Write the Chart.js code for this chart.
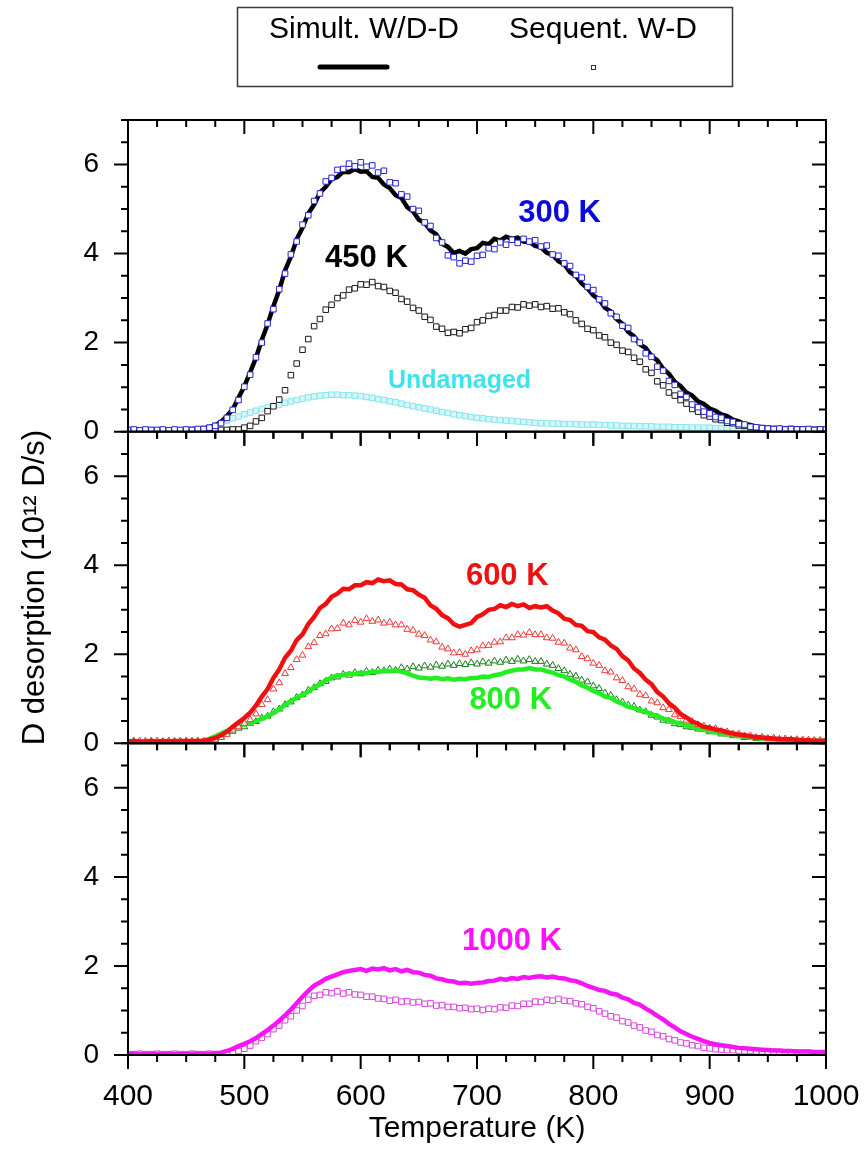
<!DOCTYPE html>
<html>
<head>
<meta charset="utf-8">
<title>D desorption vs temperature</title>
<script src="https://cdn.jsdelivr.net/npm/chart.js@4.4.1/dist/chart.umd.min.js"></script>
<style>
  html, body { margin: 0; padding: 0; background: #fff; }
  #wrap { position: relative; width: 866px; height: 1153px; }
</style>
</head>
<body>
<div id="wrap"><canvas id="tds"></canvas></div>
<script>
// Temperature grid (K)
const temperature = [
  400, 405, 410, 415, 420, 425, 430, 435, 440, 445,
  450, 455, 460, 465, 470, 475, 480, 485, 490, 495,
  500, 505, 510, 515, 520, 525, 530, 535, 540, 545,
  550, 555, 560, 565, 570, 575, 580, 585, 590, 595,
  600, 605, 610, 615, 620, 625, 630, 635, 640, 645,
  650, 655, 660, 665, 670, 675, 680, 685, 690, 695,
  700, 705, 710, 715, 720, 725, 730, 735, 740, 745,
  750, 755, 760, 765, 770, 775, 780, 785, 790, 795,
  800, 805, 810, 815, 820, 825, 830, 835, 840, 845,
  850, 855, 860, 865, 870, 875, 880, 885, 890, 895,
  900, 905, 910, 915, 920, 925, 930, 935, 940, 945,
  950, 955, 960, 965, 970, 975, 980, 985, 990, 995,
  1000
];

// Top panel (10^12 D/s)
const simult300 = [
  0.04, 0.03, 0.04, 0.04, 0.03, 0.04, 0.05, 0.04, 0.04, 0.05,
  0.05, 0.06, 0.06, 0.07, 0.10, 0.14, 0.22, 0.35, 0.50, 0.76,
  1.02, 1.33, 1.66, 2.06, 2.41, 2.82, 3.18, 3.62, 3.93, 4.32,
  4.58, 4.90, 5.10, 5.37, 5.50, 5.67, 5.72, 5.84, 5.83, 5.90,
  5.84, 5.85, 5.72, 5.70, 5.55, 5.47, 5.31, 5.25, 5.04, 4.95,
  4.76, 4.69, 4.52, 4.43, 4.22, 4.15, 4.01, 4.06, 4.00, 4.10,
  4.12, 4.24, 4.21, 4.33, 4.29, 4.38, 4.33, 4.36, 4.27, 4.26,
  4.17, 4.14, 4.02, 3.97, 3.83, 3.76, 3.58, 3.50, 3.33, 3.22,
  3.06, 2.97, 2.78, 2.70, 2.53, 2.42, 2.24, 2.14, 1.96, 1.88,
  1.70, 1.60, 1.41, 1.30, 1.12, 1.02, 0.88, 0.81, 0.68, 0.62,
  0.52, 0.47, 0.39, 0.35, 0.27, 0.23, 0.17, 0.15, 0.11, 0.10,
  0.08, 0.07, 0.07, 0.06, 0.06, 0.06, 0.05, 0.05, 0.05, 0.05,
  0.05
];
const sequent300 = [
  0.04, 0.05, 0.03, 0.05, 0.04, 0.04, 0.05, 0.03, 0.05, 0.04,
  0.05, 0.04, 0.06, 0.06, 0.09, 0.13, 0.19, 0.31, 0.49, 0.71,
  1.01, 1.28, 1.67, 2.00, 2.43, 2.75, 3.20, 3.55, 3.98, 4.27,
  4.65, 4.86, 5.18, 5.35, 5.62, 5.70, 5.88, 5.90, 6.02, 5.96,
  6.05, 5.95, 5.98, 5.82, 5.86, 5.60, 5.58, 5.33, 5.28, 5.00,
  4.96, 4.70, 4.62, 4.35, 4.25, 3.96, 3.92, 3.78, 3.84, 3.82,
  3.95, 3.97, 4.12, 4.10, 4.25, 4.20, 4.31, 4.24, 4.33, 4.27,
  4.30, 4.16, 4.18, 3.98, 3.95, 3.78, 3.72, 3.52, 3.46, 3.25,
  3.18, 2.97, 2.88, 2.66, 2.58, 2.38, 2.33, 2.08, 2.00, 1.76,
  1.68, 1.46, 1.37, 1.14, 1.05, 0.85, 0.78, 0.61, 0.55, 0.45,
  0.41, 0.33, 0.31, 0.24, 0.22, 0.17, 0.16, 0.11, 0.10, 0.08,
  0.07, 0.06, 0.07, 0.05, 0.06, 0.05, 0.05, 0.06, 0.04, 0.05,
  0.05
];
const sequent450 = [
  0.02, 0.03, 0.02, 0.02, 0.03, 0.02, 0.03, 0.02, 0.03, 0.02,
  0.03, 0.02, 0.03, 0.03, 0.03, 0.03, 0.04, 0.04, 0.05, 0.05,
  0.09, 0.13, 0.23, 0.31, 0.46, 0.57, 0.72, 0.93, 1.27, 1.53,
  1.84, 2.08, 2.37, 2.53, 2.74, 2.85, 3.00, 3.06, 3.19, 3.22,
  3.31, 3.30, 3.36, 3.27, 3.25, 3.16, 3.12, 2.98, 2.92, 2.78,
  2.72, 2.58, 2.51, 2.36, 2.31, 2.22, 2.24, 2.21, 2.30, 2.33,
  2.46, 2.50, 2.60, 2.62, 2.72, 2.72, 2.80, 2.79, 2.86, 2.83,
  2.86, 2.80, 2.82, 2.76, 2.77, 2.68, 2.64, 2.50, 2.42, 2.31,
  2.28, 2.16, 2.12, 2.00, 1.95, 1.82, 1.79, 1.66, 1.57, 1.40,
  1.32, 1.13, 1.04, 0.88, 0.81, 0.71, 0.63, 0.51, 0.45, 0.37,
  0.34, 0.28, 0.26, 0.20, 0.19, 0.14, 0.13, 0.10, 0.09, 0.08,
  0.07, 0.06, 0.06, 0.05, 0.06, 0.05, 0.05, 0.05, 0.04, 0.05,
  0.05
];
const undamaged = [
  0.03, 0.03, 0.03, 0.03, 0.03, 0.03, 0.03, 0.03, 0.03, 0.03,
  0.03, 0.04, 0.04, 0.07, 0.10, 0.15, 0.20, 0.25, 0.30, 0.34,
  0.39, 0.43, 0.47, 0.51, 0.54, 0.58, 0.61, 0.65, 0.68, 0.71,
  0.74, 0.77, 0.79, 0.81, 0.82, 0.83, 0.83, 0.82, 0.82, 0.81,
  0.80, 0.78, 0.76, 0.73, 0.71, 0.68, 0.66, 0.63, 0.60, 0.57,
  0.55, 0.52, 0.50, 0.47, 0.44, 0.42, 0.39, 0.37, 0.35, 0.33,
  0.31, 0.30, 0.28, 0.27, 0.26, 0.25, 0.24, 0.23, 0.22, 0.21,
  0.20, 0.19, 0.19, 0.18, 0.18, 0.17, 0.17, 0.17, 0.16, 0.16,
  0.16, 0.15, 0.15, 0.14, 0.14, 0.13, 0.13, 0.13, 0.12, 0.12,
  0.12, 0.11, 0.11, 0.11, 0.10, 0.10, 0.10, 0.09, 0.09, 0.09,
  0.09, 0.08, 0.08, 0.08, 0.08, 0.07, 0.07, 0.07, 0.07, 0.07,
  0.06, 0.06, 0.06, 0.06, 0.06, 0.06, 0.05, 0.05, 0.05, 0.05,
  0.05
];

// Middle panel
const simult600 = [
  0.04, 0.05, 0.04, 0.04, 0.05, 0.04, 0.05, 0.04, 0.05, 0.05,
  0.05, 0.05, 0.05, 0.06, 0.08, 0.12, 0.18, 0.26, 0.37, 0.47,
  0.57, 0.69, 0.85, 1.05, 1.22, 1.47, 1.66, 1.92, 2.08, 2.32,
  2.45, 2.68, 2.84, 3.04, 3.13, 3.29, 3.36, 3.47, 3.46, 3.55,
  3.55, 3.62, 3.60, 3.68, 3.64, 3.66, 3.58, 3.57, 3.46, 3.44,
  3.34, 3.27, 3.10, 3.02, 2.88, 2.81, 2.68, 2.62, 2.66, 2.70,
  2.84, 2.90, 3.00, 3.02, 3.10, 3.06, 3.13, 3.08, 3.12, 3.04,
  3.08, 3.05, 3.08, 2.98, 2.92, 2.80, 2.77, 2.66, 2.64, 2.52,
  2.50, 2.38, 2.33, 2.20, 2.12, 1.96, 1.86, 1.68, 1.58, 1.43,
  1.33, 1.15, 1.05, 0.90, 0.80, 0.66, 0.58, 0.49, 0.44, 0.37,
  0.35, 0.31, 0.29, 0.25, 0.22, 0.20, 0.18, 0.16, 0.14, 0.13,
  0.12, 0.11, 0.10, 0.09, 0.09, 0.08, 0.07, 0.07, 0.06, 0.06,
  0.06
];
const sequent600 = [
  0.04, 0.03, 0.05, 0.04, 0.04, 0.05, 0.03, 0.04, 0.04, 0.05,
  0.04, 0.05, 0.04, 0.05, 0.05, 0.08, 0.13, 0.20, 0.30, 0.37,
  0.45, 0.53, 0.66, 0.87, 0.98, 1.22, 1.36, 1.57, 1.70, 1.88,
  1.98, 2.17, 2.26, 2.42, 2.46, 2.57, 2.58, 2.70, 2.66, 2.76,
  2.72, 2.80, 2.74, 2.77, 2.70, 2.72, 2.66, 2.66, 2.56, 2.54,
  2.45, 2.42, 2.32, 2.28, 2.16, 2.12, 2.03, 2.04, 2.00, 2.08,
  2.10, 2.19, 2.20, 2.27, 2.28, 2.37, 2.37, 2.44, 2.43, 2.49,
  2.44, 2.44, 2.37, 2.36, 2.27, 2.25, 2.14, 2.10, 1.95, 1.90,
  1.80, 1.75, 1.63, 1.60, 1.47, 1.41, 1.27, 1.22, 1.10, 1.07,
  0.95, 0.91, 0.80, 0.76, 0.64, 0.60, 0.52, 0.49, 0.42, 0.39,
  0.34, 0.33, 0.27, 0.26, 0.21, 0.21, 0.17, 0.17, 0.13, 0.14,
  0.11, 0.12, 0.09, 0.10, 0.08, 0.08, 0.07, 0.07, 0.06, 0.06,
  0.05
];
const simult800 = [
  0.03, 0.04, 0.03, 0.03, 0.04, 0.03, 0.04, 0.03, 0.04, 0.04,
  0.04, 0.04, 0.05, 0.06, 0.10, 0.16, 0.22, 0.28, 0.33, 0.38,
  0.42, 0.46, 0.50, 0.55, 0.61, 0.68, 0.77, 0.86, 0.95, 1.02,
  1.09, 1.16, 1.26, 1.32, 1.42, 1.47, 1.53, 1.53, 1.57, 1.55,
  1.59, 1.57, 1.61, 1.60, 1.63, 1.62, 1.64, 1.61, 1.57, 1.52,
  1.48, 1.47, 1.45, 1.47, 1.44, 1.46, 1.43, 1.45, 1.44, 1.47,
  1.47, 1.50, 1.49, 1.53, 1.55, 1.60, 1.63, 1.66, 1.66, 1.69,
  1.66, 1.66, 1.62, 1.59, 1.53, 1.50, 1.43, 1.38, 1.30, 1.25,
  1.17, 1.13, 1.05, 1.02, 0.94, 0.89, 0.82, 0.79, 0.74, 0.71,
  0.65, 0.62, 0.55, 0.53, 0.47, 0.45, 0.40, 0.37, 0.33, 0.30,
  0.27, 0.25, 0.22, 0.20, 0.18, 0.16, 0.14, 0.13, 0.12, 0.11,
  0.10, 0.09, 0.09, 0.08, 0.08, 0.07, 0.07, 0.06, 0.06, 0.06,
  0.05
];
const sequent800 = [
  0.04, 0.05, 0.04, 0.04, 0.05, 0.04, 0.04, 0.05, 0.04, 0.04,
  0.05, 0.04, 0.05, 0.05, 0.06, 0.10, 0.16, 0.23, 0.27, 0.34,
  0.37, 0.45, 0.49, 0.57, 0.61, 0.71, 0.77, 0.87, 0.93, 1.03,
  1.09, 1.19, 1.25, 1.34, 1.39, 1.47, 1.49, 1.55, 1.53, 1.59,
  1.56, 1.62, 1.59, 1.64, 1.63, 1.67, 1.64, 1.70, 1.67, 1.72,
  1.69, 1.74, 1.71, 1.76, 1.73, 1.78, 1.75, 1.79, 1.77, 1.81,
  1.78, 1.83, 1.80, 1.85, 1.82, 1.87, 1.84, 1.89, 1.85, 1.88,
  1.84, 1.84, 1.78, 1.75, 1.68, 1.63, 1.55, 1.51, 1.42, 1.38,
  1.29, 1.23, 1.13, 1.08, 0.98, 0.93, 0.86, 0.83, 0.75, 0.71,
  0.63, 0.59, 0.52, 0.50, 0.44, 0.42, 0.37, 0.36, 0.32, 0.31,
  0.26, 0.26, 0.21, 0.21, 0.17, 0.17, 0.13, 0.14, 0.11, 0.12,
  0.10, 0.10, 0.09, 0.09, 0.08, 0.08, 0.07, 0.07, 0.06, 0.06,
  0.06
];

// Bottom panel
const simult1000 = [
  0.02, 0.03, 0.02, 0.02, 0.03, 0.02, 0.02, 0.03, 0.02, 0.02,
  0.02, 0.03, 0.03, 0.03, 0.03, 0.04, 0.05, 0.09, 0.14, 0.20,
  0.25, 0.31, 0.38, 0.47, 0.56, 0.66, 0.77, 0.89, 1.02, 1.16,
  1.31, 1.44, 1.56, 1.63, 1.71, 1.76, 1.81, 1.86, 1.89, 1.91,
  1.93, 1.89, 1.94, 1.92, 1.95, 1.90, 1.93, 1.88, 1.91, 1.86,
  1.85, 1.80, 1.78, 1.72, 1.70, 1.66, 1.65, 1.61, 1.62, 1.60,
  1.62, 1.63, 1.66, 1.67, 1.71, 1.69, 1.73, 1.71, 1.75, 1.73,
  1.76, 1.77, 1.74, 1.76, 1.73, 1.72, 1.68, 1.66, 1.61, 1.55,
  1.51, 1.46, 1.44, 1.38, 1.36, 1.29, 1.25, 1.17, 1.13, 1.04,
  0.97, 0.88, 0.80, 0.70, 0.62, 0.53, 0.47, 0.41, 0.36, 0.31,
  0.27, 0.24, 0.22, 0.20, 0.18, 0.16, 0.15, 0.14, 0.13, 0.12,
  0.11, 0.10, 0.10, 0.09, 0.09, 0.08, 0.08, 0.08, 0.07, 0.07,
  0.07
];
const sequent1000 = [
  0.02, 0.02, 0.03, 0.02, 0.02, 0.03, 0.02, 0.02, 0.03, 0.02,
  0.02, 0.03, 0.02, 0.02, 0.03, 0.02, 0.02, 0.03, 0.04, 0.09,
  0.14, 0.21, 0.31, 0.39, 0.47, 0.58, 0.66, 0.78, 0.87, 1.00,
  1.10, 1.24, 1.33, 1.35, 1.41, 1.39, 1.43, 1.38, 1.41, 1.36,
  1.35, 1.31, 1.31, 1.27, 1.26, 1.22, 1.24, 1.20, 1.21, 1.18,
  1.19, 1.15, 1.16, 1.11, 1.12, 1.08, 1.08, 1.05, 1.06, 1.03,
  1.04, 1.01, 1.04, 1.03, 1.07, 1.06, 1.11, 1.10, 1.15, 1.15,
  1.20, 1.19, 1.24, 1.22, 1.26, 1.22, 1.21, 1.16, 1.14, 1.08,
  1.05, 0.98, 0.93, 0.87, 0.84, 0.76, 0.73, 0.66, 0.62, 0.55,
  0.52, 0.45, 0.42, 0.36, 0.33, 0.28, 0.26, 0.22, 0.20, 0.16,
  0.15, 0.13, 0.12, 0.11, 0.11, 0.10, 0.09, 0.09, 0.08, 0.08,
  0.07, 0.07, 0.06, 0.06, 0.06, 0.05, 0.05, 0.05, 0.04, 0.04,
  0.04
];

// Axis ticks and texts
const yTickValues = [0, 2, 4, 6];
const xTickValues = [400, 500, 600, 700, 800, 900, 1000];
const legendLabels = ['Simult. W/D-D', 'Sequent. W-D'];

// Curve labels, placed in data units of each panel
const curveLabels = [
  { text: '300 K', axis: 'yTop', t: 771, v: 4.9, color: '#0b0bd9', size: 31 },
  { text: '450 K', axis: 'yTop', t: 605, v: 3.9, color: '#000000', size: 31 },
  { text: 'Undamaged', axis: 'yTop', t: 685, v: 1.14, color: '#3fe3ee', size: 25 },
  { text: '600 K', axis: 'yMid', t: 726, v: 3.74, color: '#ee1111', size: 31 },
  { text: '800 K', axis: 'yMid', t: 729, v: 0.97, color: '#22ee22', size: 31 },
  { text: '1000 K', axis: 'yBot', t: 730, v: 2.54, color: '#ff11ff', size: 31 }
];

const FONT = "'Liberation Sans', Arial, Helvetica, sans-serif";
Chart.defaults.font.family = FONT;
Chart.defaults.color = '#000';

function pts(vals) {
  return temperature.map((t, i) => ({ x: t, y: vals[i] }));
}

function lineSet(label, vals, axis, color) {
  return {
    label, data: pts(vals), yAxisID: axis,
    borderColor: color, borderWidth: 4.5, pointRadius: 0,
    fill: false, tension: 0
  };
}

function markSet(label, vals, axis, color, style, fillColor) {
  return {
    label, data: pts(vals), yAxisID: axis, showLine: false,
    pointStyle: style, pointRadius: 3.9, pointBorderWidth: 1,
    pointBorderColor: color, pointBackgroundColor: fillColor || '#ffffff',
    borderColor: color, backgroundColor: fillColor || '#ffffff'
  };
}

// first dataset is drawn on top
const datasets = [
  markSet('300 K sequent', sequent300, 'yTop', '#2525d6', 'rect'),
  lineSet('300 K simult', simult300, 'yTop', '#000000'),
  markSet('450 K sequent', sequent450, 'yTop', '#1a1a1a', 'rect'),
  markSet('Undamaged', undamaged, 'yTop', '#86e6ee', 'rect', '#d6f7f9'),
  lineSet('600 K simult', simult600, 'yMid', '#f01010'),
  markSet('600 K sequent', sequent600, 'yMid', '#e83a3a', 'triangle'),
  lineSet('800 K simult', simult800, 'yMid', '#22ee22'),
  markSet('800 K sequent', sequent800, 'yMid', '#167a16', 'triangle'),
  lineSet('1000 K simult', simult1000, 'yBot', '#f515f5'),
  markSet('1000 K sequent', sequent1000, 'yBot', '#dd44dd', 'rect')
];

function panelAxis(extra) {
  return Object.assign({
    type: 'linear', position: 'left', stack: 'panels', stackWeight: 1,
    min: 0, max: 7,
    grid: { display: false }, border: { display: false },
    afterBuildTicks: s => { s.ticks = yTickValues.map(v => ({ value: v })); },
    ticks: { padding: 21, font: { size: 28 }, color: '#000' },
    afterFit: s => { s.width = 128; }
  }, extra);
}

// frame + in/out tick marks of every panel
const frameTicks = {
  id: 'frameTicks',
  afterDraw(chart) {
    const { ctx, chartArea: a, scales } = chart;
    const xs = scales.x;
    ctx.save();
    ctx.strokeStyle = '#000';
    ctx.lineWidth = 2;
    ['yTop', 'yMid', 'yBot'].forEach(id => {
      const s = scales[id];
      ctx.strokeRect(a.left, s.top, a.right - a.left, s.bottom - s.top);
      ctx.beginPath();
      for (let v = 0; v <= 7; v += 0.5) {
        const py = s.getPixelForValue(v);
        const len = v % 2 === 0 ? 14 : 7;
        ctx.moveTo(a.left - len, py); ctx.lineTo(a.left, py);
        ctx.moveTo(a.right - len, py); ctx.lineTo(a.right, py);
      }
      for (let t = 400; t <= 1000; t += 25) {
        const px = xs.getPixelForValue(t);
        const len = t % 100 === 0 ? 14 : 7;
        ctx.moveTo(px, s.top); ctx.lineTo(px, s.top + len);
        ctx.moveTo(px, s.bottom); ctx.lineTo(px, s.bottom + len);
      }
      ctx.stroke();
    });
    ctx.restore();
  }
};

// coloured labels beside the curves
const curveText = {
  id: 'curveText',
  afterDatasetsDraw(chart) {
    const { ctx, scales } = chart;
    ctx.save();
    ctx.textAlign = 'center';
    ctx.textBaseline = 'middle';
    curveLabels.forEach(l => {
      ctx.font = `bold ${l.size}px ${FONT}`;
      ctx.fillStyle = l.color;
      ctx.fillText(l.text, scales.x.getPixelForValue(l.t), scales[l.axis].getPixelForValue(l.v));
    });
    ctx.restore();
  }
};

// boxed key above the plot
const seriesKey = {
  id: 'seriesKey',
  afterDraw(chart) {
    const ctx = chart.ctx;
    ctx.save();
    ctx.strokeStyle = '#3a3a3a';
    ctx.lineWidth = 1.5;
    ctx.strokeRect(237.5, 7.5, 495, 79);
    ctx.fillStyle = '#000';
    ctx.font = `30px ${FONT}`;
    ctx.textAlign = 'center';
    ctx.textBaseline = 'middle';
    ctx.fillText(legendLabels[0], 364, 30);
    ctx.fillText(legendLabels[1], 603, 30);
    ctx.strokeStyle = '#000';
    ctx.lineWidth = 5;
    ctx.lineCap = 'round';
    ctx.beginPath();
    ctx.moveTo(320, 67); ctx.lineTo(387, 67);
    ctx.stroke();
    ctx.lineWidth = 1;
    ctx.strokeStyle = '#333';
    ctx.strokeRect(591.5, 65.5, 4, 4);
    ctx.restore();
  }
};

new Chart(document.getElementById('tds'), {
  type: 'line',
  data: { datasets },
  options: {
    responsive: true,
    maintainAspectRatio: false,
    animation: false,
    layout: { padding: { left: 0, right: 40, top: 120, bottom: 0 } },
    plugins: { legend: { display: false }, tooltip: { enabled: false } },
    scales: {
      x: {
        type: 'linear', min: 400, max: 1000,
        grid: { display: false }, border: { display: false },
        afterBuildTicks: s => { s.ticks = xTickValues.map(v => ({ value: v })); },
        ticks: { padding: 16, font: { size: 30 }, color: '#000', maxRotation: 0, autoSkip: false, callback: v => String(v) },
        title: { display: true, text: 'Temperature (K)', font: { size: 30 }, color: '#000', padding: { top: 0, bottom: 6 } },
        afterFit: s => { s.height = 98; s.paddingLeft = 0; s.paddingRight = 0; }
      },
      // stacked axes are placed bottom-up in definition order
      yBot: panelAxis({}),
      yMid: panelAxis({
        title: { display: true, text: 'D desorption (10¹² D/s)', font: { size: 31 }, color: '#000', padding: { top: 17, bottom: 0 } }
      }),
      yTop: panelAxis({})
    }
  },
  plugins: [frameTicks, curveText, seriesKey]
});
</script>
</body>
</html>
